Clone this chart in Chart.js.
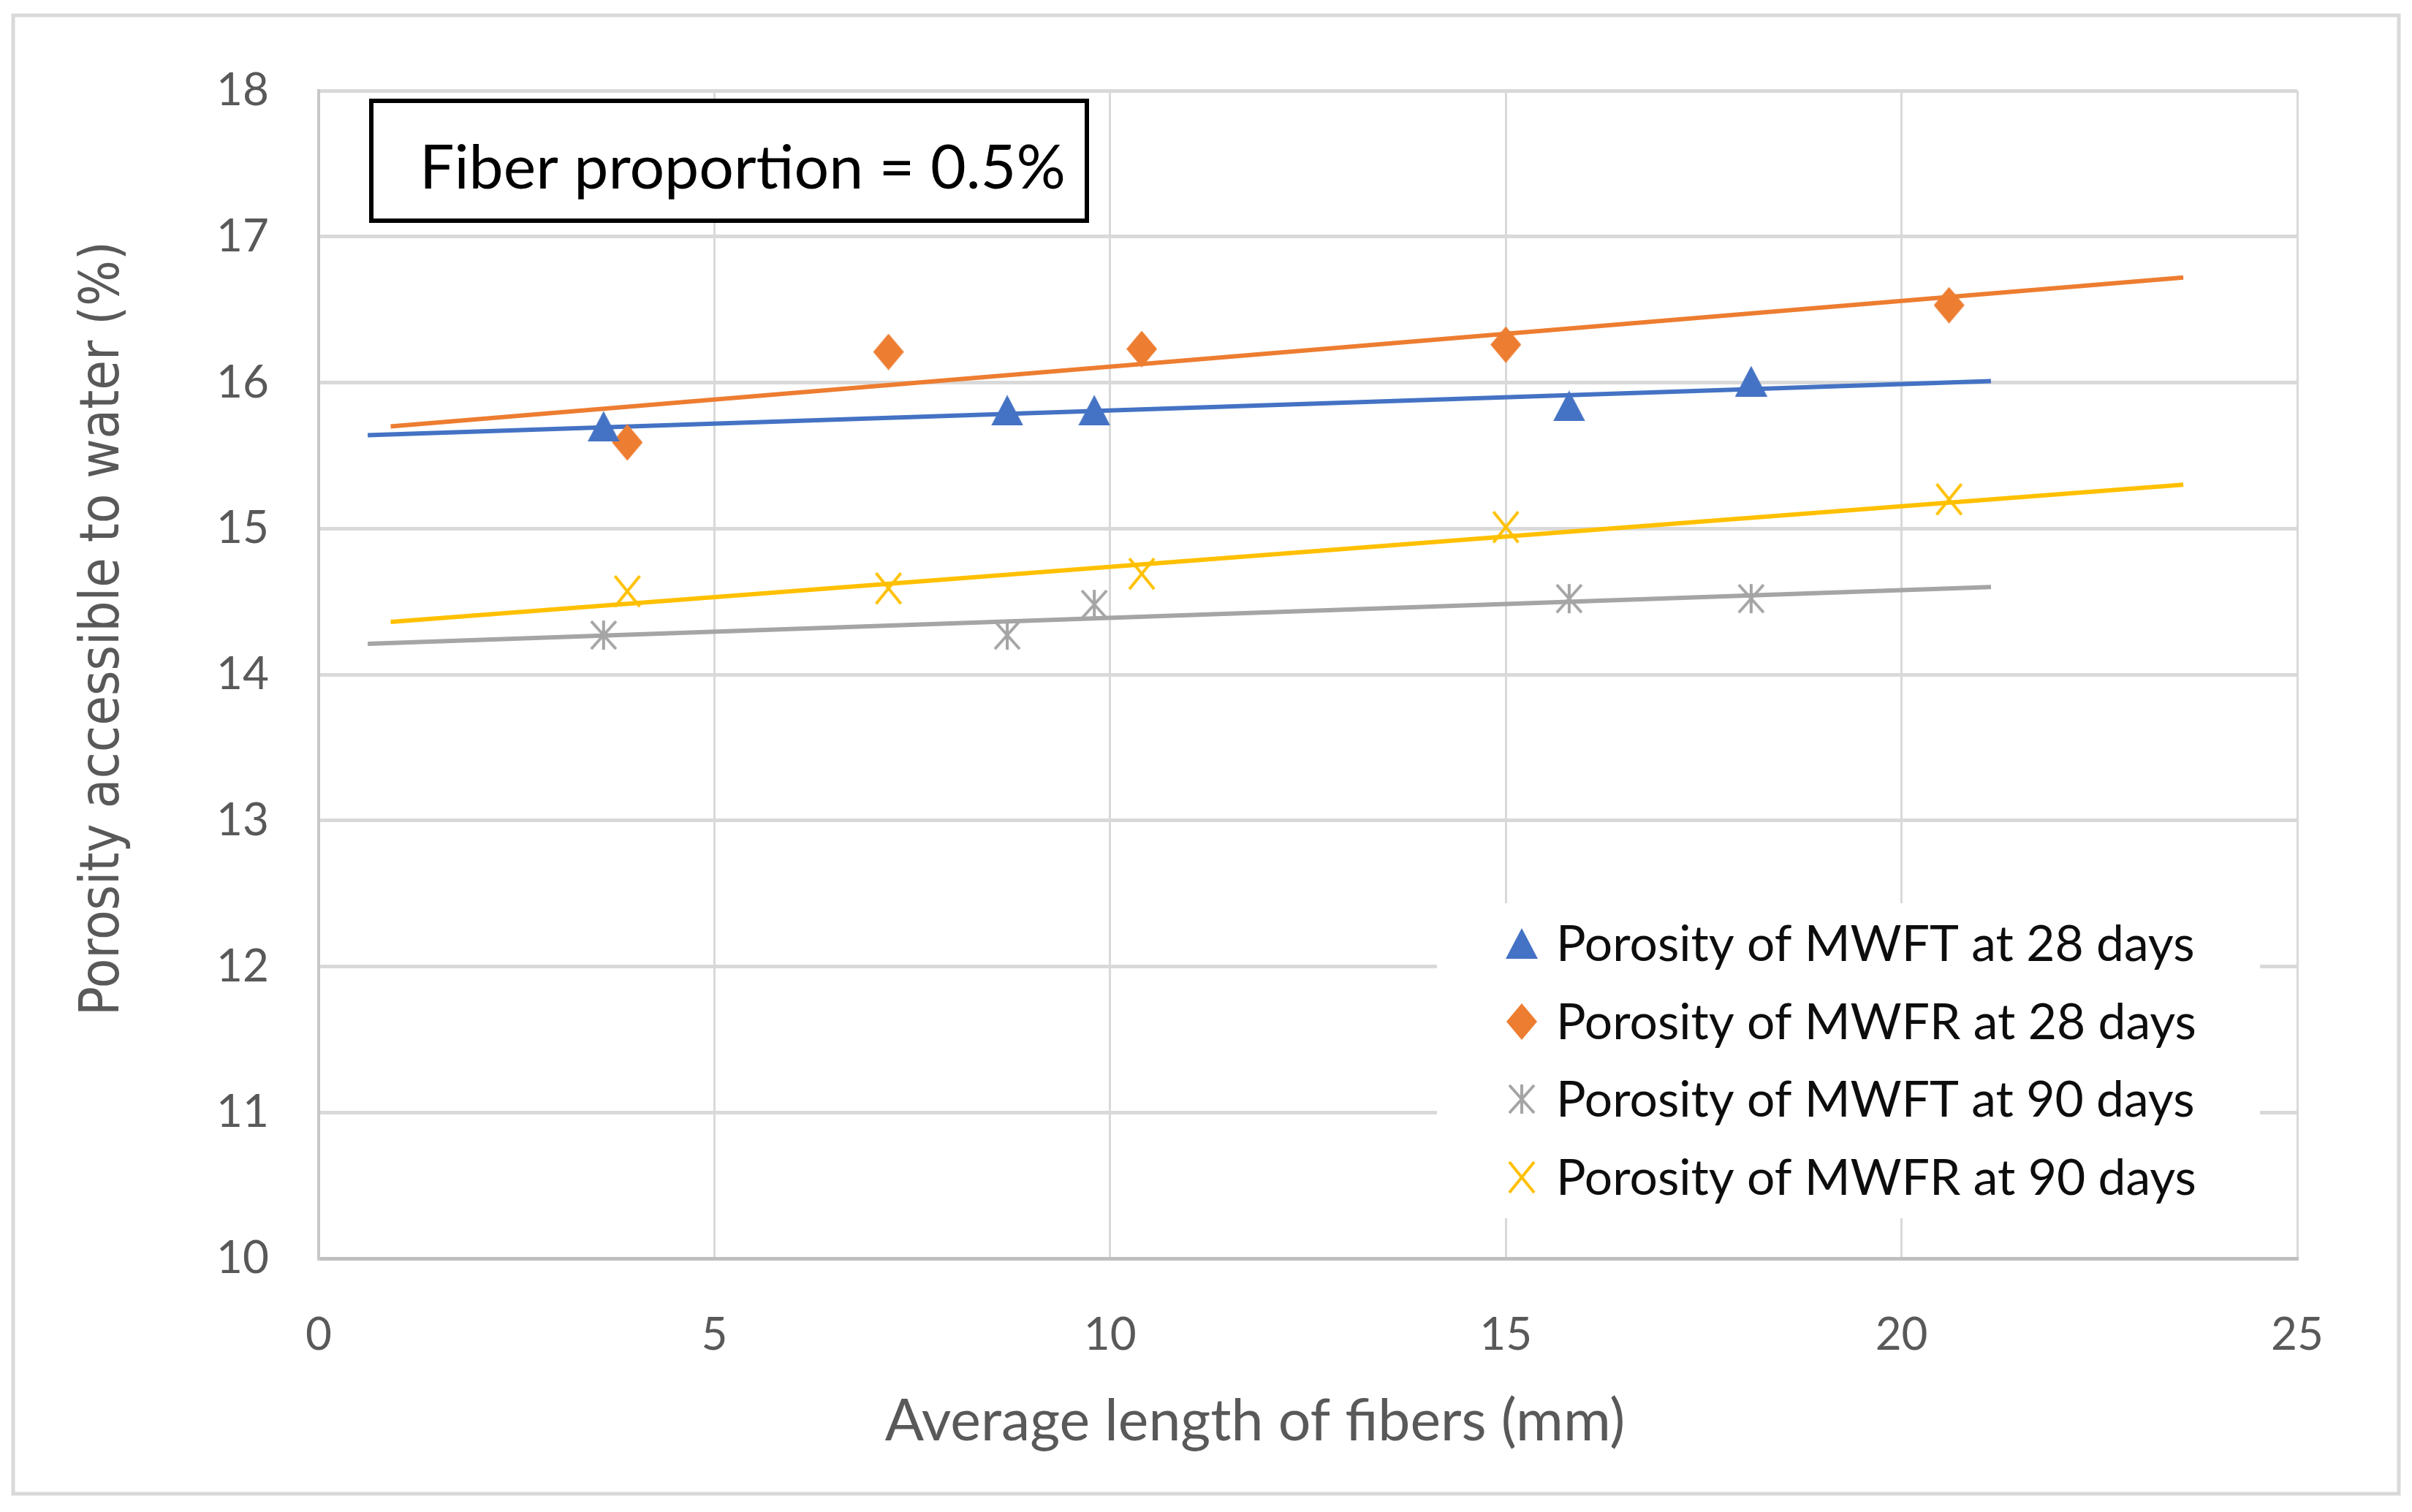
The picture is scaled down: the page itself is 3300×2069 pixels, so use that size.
<!DOCTYPE html>
<html>
<head>
<meta charset="utf-8">
<script src="https://cdn.jsdelivr.net/npm/chart.js@4.4.1/dist/chart.umd.min.js"></script>
<style>
  html, body { margin: 0; padding: 0; background: #fff; }
  #wrap { width: 3300px; height: 2069px; }
</style>
</head>
<body>
<div id="wrap"><canvas id="chart" width="3300" height="2069"></canvas></div>
<script>
// Average length of fibers (mm) for each mortar
const mwftLength = [3.6, 8.7, 9.8, 15.8, 18.1];
const mwfrLength = [3.9, 7.2, 10.4, 15.0, 20.6];

// Porosity accessible to water (%)
const mwft28 = [15.70, 15.81, 15.81, 15.84, 16.01];
const mwfr28 = [15.59, 16.21, 16.23, 16.26, 16.53];
const mwft90 = [14.27, 14.27, 14.48, 14.52, 14.52];
const mwfr90 = [14.57, 14.59, 14.69, 15.01, 15.20];

// Linear trendlines: start and end points
const trendMwftX = [0.62, 21.13];
const trendMwfrX = [0.91, 23.56];
const trendMwft28 = [15.64, 16.01];
const trendMwfr28 = [15.70, 16.72];
const trendMwft90 = [14.21, 14.60];
const trendMwfr90 = [14.36, 15.30];

const seriesLabels = [
  'Porosity of MWFT at 28 days',
  'Porosity of MWFR at 28 days',
  'Porosity of MWFT at 90 days',
  'Porosity of MWFR at 90 days'
];

// axis ranges [min, max, step]
const xRange = [0, 25, 5];
const yRange = [10, 18, 1];

const xTitle = 'Average length of fibers (mm)';
const yTitle = 'Porosity accessible to water (%)';
const noteText = 'Fiber proportion = 0.5%';

const BLUE = '#4472C4';
const ORANGE = '#ED7D31';
const GRAY = '#A5A5A5';
const YELLOW = '#FFC000';

// small canvases used as point styles (Excel-like markers)
const makeMarker = (w, h, draw) => {
  const c = document.createElement('canvas');
  c.width = w;
  c.height = h;
  draw(c.getContext('2d'), w, h);
  return c;
};

const triangle = makeMarker(44, 42, (g, w, h) => {
  g.fillStyle = BLUE;
  g.beginPath();
  g.moveTo(w / 2, 0);
  g.lineTo(w, h);
  g.lineTo(0, h);
  g.closePath();
  g.fill();
});

const diamond = makeMarker(42, 50, (g, w, h) => {
  g.fillStyle = ORANGE;
  g.beginPath();
  g.moveTo(w / 2, 0);
  g.lineTo(w, h / 2);
  g.lineTo(w / 2, h);
  g.lineTo(0, h / 2);
  g.closePath();
  g.fill();
});

const asterisk = makeMarker(40, 44, (g, w, h) => {
  g.strokeStyle = GRAY;
  g.lineWidth = 4;
  g.beginPath();
  g.moveTo(w / 2, 2); g.lineTo(w / 2, h - 2);
  g.moveTo(3, 3); g.lineTo(w - 3, h - 3);
  g.moveTo(w - 3, 3); g.lineTo(3, h - 3);
  g.stroke();
});

const cross = makeMarker(40, 46, (g, w, h) => {
  g.strokeStyle = YELLOW;
  g.lineWidth = 4;
  g.beginPath();
  g.moveTo(3, 2); g.lineTo(w - 3, h - 2);
  g.moveTo(w - 3, 2); g.lineTo(3, h - 2);
  g.stroke();
});

const toPoints = (xs, ys) => xs.map((x, i) => ({ x: x, y: ys[i] }));

const pointSet = (label, xs, ys, style, color) => ({
  label: label,
  data: toPoints(xs, ys),
  pointStyle: style,
  pointRadius: 22,
  backgroundColor: color,
  borderColor: color,
  showLine: false
});

const trendSet = (xs, ys, color) => ({
  label: 'trend',
  data: toPoints(xs, ys),
  showLine: true,
  borderColor: color,
  borderWidth: 6,
  pointRadius: 0,
  fill: false
});

// fit a font size so that the text is the wanted width
const fitSize = (ctx, text, family, width) => {
  ctx.font = '100px ' + family;
  return 100 * width / ctx.measureText(text).width;
};

const decorations = {
  id: 'decorations',
  beforeDraw(chart) {
    const ctx = chart.ctx;
    ctx.save();
    ctx.fillStyle = '#fff';
    ctx.fillRect(0, 0, chart.width, chart.height);
    ctx.strokeStyle = '#d9d9d9';
    ctx.lineWidth = 5;
    ctx.strokeRect(18, 21, 3264, 2023);
    ctx.restore();
  },
  afterDraw(chart) {
    const ctx = chart.ctx;
    ctx.save();

    // y axis title
    let size = fitSize(ctx, yTitle, '"DejaVu Sans"', 1060);
    ctx.translate(143, 860);
    ctx.rotate(-Math.PI / 2);
    ctx.scale(1, 1.12);
    ctx.font = size + 'px "DejaVu Sans"';
    ctx.fillStyle = '#595959';
    ctx.textAlign = 'center';
    ctx.textBaseline = 'middle';
    ctx.fillText(yTitle, 0, 0);
    ctx.setTransform(1, 0, 0, 1, 0, 0);

    // x axis title
    size = fitSize(ctx, xTitle, 'Lato', 1013);
    ctx.font = size + 'px Lato';
    ctx.textAlign = 'center';
    ctx.textBaseline = 'alphabetic';
    ctx.fillText(xTitle, 1717, 1943 + 0.358 * size);

    // note box
    ctx.fillStyle = '#fff';
    ctx.fillRect(508, 138, 979, 164);
    ctx.strokeStyle = '#000';
    ctx.lineWidth = 6;
    ctx.strokeRect(508, 138, 979, 164);
    size = fitSize(ctx, noteText, 'Lato', 884);
    ctx.font = size + 'px Lato';
    ctx.fillStyle = '#000';
    ctx.textAlign = 'left';
    ctx.fillText(noteText, 574, 228 + 0.358 * size);

    // legend inside the plot, on a white box
    ctx.fillStyle = '#fff';
    ctx.fillRect(1966, 1236, 1126, 431);
    const rows = [1291, 1398, 1504, 1611];
    size = fitSize(ctx, seriesLabels[1], 'Lato', 876);
    ctx.font = size + 'px Lato';
    ctx.fillStyle = '#0d0d0d';
    chart.data.datasets.slice(0, 4).forEach((ds, i) => {
      const img = ds.pointStyle;
      ctx.drawImage(img, 2082 - img.width / 2, rows[i] - img.height / 2);
      ctx.fillText(ds.label, 2129, rows[i] + 0.358 * size);
    });
    ctx.restore();
  }
};

new Chart(document.getElementById('chart').getContext('2d'), {
  type: 'scatter',
  data: {
    datasets: [
      pointSet(seriesLabels[0], mwftLength, mwft28, triangle, BLUE),
      pointSet(seriesLabels[1], mwfrLength, mwfr28, diamond, ORANGE),
      pointSet(seriesLabels[2], mwftLength, mwft90, asterisk, GRAY),
      pointSet(seriesLabels[3], mwfrLength, mwfr90, cross, YELLOW),
      trendSet(trendMwftX, trendMwft28, BLUE),
      trendSet(trendMwfrX, trendMwfr28, ORANGE),
      trendSet(trendMwftX, trendMwft90, GRAY),
      trendSet(trendMwfrX, trendMwfr90, YELLOW)
    ]
  },
  options: {
    responsive: false,
    devicePixelRatio: 1,
    animation: false,
    layout: { padding: { left: 20, top: 124, right: 157, bottom: 20 } },
    plugins: {
      legend: { display: false },
      tooltip: { enabled: false }
    },
    scales: {
      x: {
        type: 'linear',
        min: xRange[0],
        max: xRange[1],
        afterFit: (scale) => { scale.height = 327; },
        ticks: {
          stepSize: xRange[2],
          color: '#595959',
          padding: 68,
          font: { family: 'Lato', size: 62 }
        },
        grid: { color: '#d9d9d9', lineWidth: 3, drawTicks: false },
        border: { color: '#bfbfbf', width: 5 }
      },
      y: {
        type: 'linear',
        min: yRange[0],
        max: yRange[1],
        afterFit: (scale) => { scale.width = 416; },
        ticks: {
          stepSize: yRange[2],
          color: '#595959',
          padding: 68,
          font: { family: 'Lato', size: 62 }
        },
        grid: { color: '#d9d9d9', lineWidth: 5, drawTicks: false },
        border: { color: '#c8c8c8', width: 4 }
      }
    }
  },
  plugins: [decorations]
});
</script>
</body>
</html>
